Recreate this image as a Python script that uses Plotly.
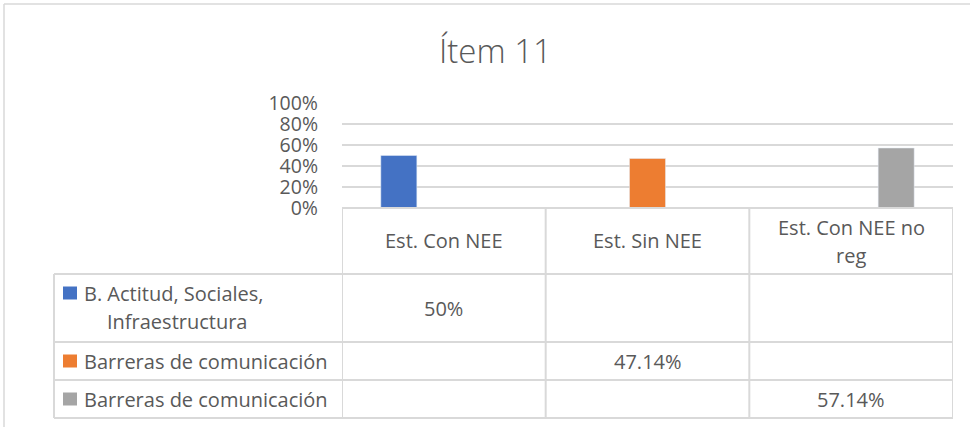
import plotly.graph_objects as go

# datos
categorias = ["Est. Con NEE", "Est. Sin NEE", "Est. Con NEE no reg"]
encabezados = ["Est. Con NEE", "Est. Sin NEE", "Est. Con NEE no<br>reg"]
series = ["B. Actitud, Sociales,<br>Infraestructura", "Barreras de comunicación", "Barreras de comunicación"]
valores = [[0.50, None, None], [None, 0.4714, None], [None, None, 0.5714]]
colores = ["#4472C4", "#ED7D31", "#A5A5A5"]

W, H = 970, 427
fuente = "Open Sans"
gris = "#595959"
linea = "#D9D9D9"
tam = 20

def px(x):
    return x / W

def py(y):
    return 1 - y / H

def etiqueta(v):
    return f"{v*100:.2f}".rstrip("0").rstrip(".") + "%"

def texto(t, x, y, xref="paper", xanchor="center"):
    fig.add_annotation(text=t, xref=xref, yref="paper", x=x, y=py(y), xanchor=xanchor,
                       yanchor="middle", showarrow=False, font=dict(size=tam, color=gris))

fig = go.Figure()
for nombre, vals, c in zip(series, valores, colores):
    fig.add_trace(go.Bar(x=categorias, y=vals, name=nombre.replace("<br>", " "), marker_color=c))

fig.update_layout(
    width=W, height=H,
    margin=dict(l=0, r=0, t=0, b=0, pad=0),
    paper_bgcolor="white", plot_bgcolor="white",
    barmode="group", bargap=0.337, bargroupgap=0.2,
    showlegend=False,
    font=dict(family=fuente, color=gris, size=tam),
)
fig.update_xaxes(domain=[px(342), px(953)], range=[-0.5, 2.5], showticklabels=False,
                 showgrid=False, zeroline=False, showline=False, automargin=False)
fig.update_yaxes(domain=[py(208), py(103)], range=[0, 1], dtick=0.2, tickformat=".0%",
                 gridcolor=linea, gridwidth=1.5, zeroline=False, showline=False, automargin=False,
                 ticklabelstandoff=23, tickfont=dict(size=19.5, color=gris))

# titulo
fig.add_annotation(text="Ítem 11", xref="paper", yref="paper", x=px(496), y=py(50),
                   xanchor="center", yanchor="middle", showarrow=False,
                   font=dict(size=33, color=gris, family=fuente, weight=300))

# borde del grafico
fig.add_shape(type="line", xref="paper", yref="paper", x0=px(4), x1=px(4), y0=py(4), y1=0,
              line=dict(color=linea, width=1.5))
fig.add_shape(type="line", xref="paper", yref="paper", x0=px(4), x1=1, y0=py(4), y1=py(4),
              line=dict(color=linea, width=1.5))

# tabla de datos
filas = [208, 274, 342, 380, 418]
for i, y in enumerate(filas):
    if i == 0:
        fig.add_shape(type="line", xref="x", yref="paper", x0=-0.5, x1=2.5, y0=py(y), y1=py(y),
                      line=dict(color=linea, width=2))
    else:
        fig.add_shape(type="line", xref="paper", yref="paper", x0=px(54), x1=px(953), y0=py(y), y1=py(y),
                      line=dict(color=linea, width=2))
for k in range(len(categorias) + 1):
    fig.add_shape(type="line", xref="x", yref="paper", x0=k - 0.5, x1=k - 0.5, y0=py(208), y1=py(418),
                  line=dict(color=linea, width=2))
fig.add_shape(type="line", xref="paper", yref="paper", x0=px(54), x1=px(54), y0=py(274), y1=py(418),
              line=dict(color=linea, width=2))

for k, enc in enumerate(encabezados):
    lineas = enc.split("<br>")
    if len(lineas) == 1:
        texto(enc, k, 241, xref="x")
    else:
        texto(lineas[0], k, 227, xref="x")
        texto(lineas[1], k, 255, xref="x")

centros = [308, 361, 399]
for r, (nombre, vals, c) in enumerate(zip(series, valores, colores)):
    lineas = nombre.split("<br>")
    if len(lineas) == 1:
        texto(nombre, px(82), centros[r], xanchor="left")
        ys = centros[r]
    else:
        # primera linea alineada a la izquierda, segunda centrada respecto a ella
        texto(lineas[0], px(82), 293, xanchor="left")
        texto(lineas[1], px(176.5), 321)
        ys = 293
    fig.add_shape(type="rect", xref="paper", yref="paper", x0=px(63), x1=px(77),
                  y0=py(ys - 6.5), y1=py(ys + 6.5), fillcolor=c, line_width=0)
    for k, v in enumerate(vals):
        if v is not None:
            texto(etiqueta(v), k, centros[r], xref="x")

fig.write_html("out.html", config={"displayModeBar": False},
               post_script="document.body.style.margin='0px';")
